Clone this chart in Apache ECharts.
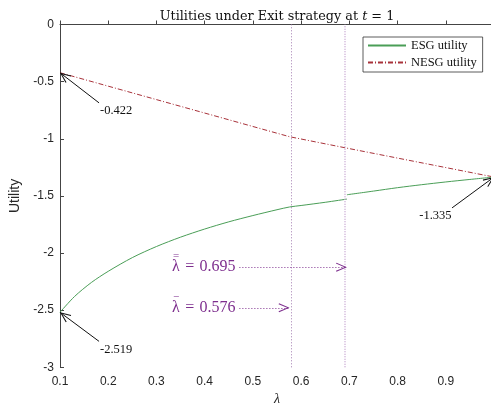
<!DOCTYPE html>
<html>
<head>
<meta charset="utf-8">
<script src="https://cdn.jsdelivr.net/npm/echarts@6/dist/echarts.min.js"></script>
<style>
  html, body { margin: 0; padding: 0; background: #fff; }
  #chart { width: 491px; height: 406px; }
</style>
</head>
<body>
<div id="chart"></div>
<script>
// ESG utility below the upper threshold
const lambdaESGLow = [0.1, 0.13, 0.165, 0.2, 0.25, 0.3, 0.35, 0.4, 0.45, 0.5, 0.55, 0.576, 0.6, 0.65, 0.695];
const esgUtilityLow = [-2.519, -2.381, -2.258, -2.16, -2.04, -1.943, -1.861, -1.79, -1.727, -1.672, -1.621, -1.597, -1.584, -1.556, -1.528];

// ESG utility from the upper threshold on (after the jump)
const lambdaESGHigh = [0.695, 0.75, 0.8, 0.85, 0.9, 0.95, 1.0];
const esgUtilityHigh = [-1.49, -1.458, -1.428, -1.402, -1.378, -1.356, -1.335];

// NESG utility (piecewise linear)
const lambdaNESG = [0.1, 0.576, 0.695, 1.0];
const nesgUtility = [-0.422, -0.982, -1.082, -1.335];

// Thresholds lambda-bar and double lambda-bar
const lambdaBar = 0.576;
const lambdaBarBar = 0.695;

const xTicks = { min: 0.1, max: 1.0, interval: 0.1 };
const yTicks = { min: -3, max: 0, interval: 0.5 };

const green = '#4a9e57';
const red = '#a8323a';
const purple = '#7e2f8e';
const serif = 'Liberation Serif';
const sans = 'Liberation Sans';

// open chevron, tip at the centre of its box so it lands on the end point
const chevron = 'path://M5,0 L5.01,0 L5,0.01 Z M5,10 L10,19.5 L9,20 L5,12.2 L1,20 L0,19.5 Z';

const zip = (xs, ys) => xs.map((x, i) => [x, ys[i]]);

function arrow(from, to, color, type) {
  return [
    { coord: from, symbol: 'none', lineStyle: { color: color, width: 1, type: type } },
    { coord: to, symbol: chevron, symbolSize: [9, 22] }
  ];
}

function note(coord, text, align, color, size) {
  return {
    coord: coord,
    symbol: 'circle',
    symbolSize: 0,
    label: {
      show: true,
      position: [0, 0],
      align: align,
      verticalAlign: 'middle',
      formatter: text,
      fontFamily: serif,
      fontSize: size,
      color: color
    }
  };
}

// threshold label: lambda with one or two bars drawn above it
function thresholdNote(coord, bar, value) {
  return {
    coord: coord,
    symbol: 'circle',
    symbolSize: 0,
    label: {
      show: true,
      position: [0, 0],
      align: 'left',
      verticalAlign: 'middle',
      offset: [0, -3],
      formatter: '{bar|' + bar + '}\n{txt|λ \u200A=\u200A ' + value.toFixed(3) + '}',
      rich: {
        bar: { fontFamily: serif, fontSize: 11, lineHeight: 6, color: purple, padding: [0, 0, 0, 1] },
        txt: { fontFamily: serif, fontSize: 16, lineHeight: 16, color: purple }
      }
    }
  };
}

const lastL = lambdaESGHigh[lambdaESGHigh.length - 1];
const lastU = esgUtilityHigh[esgUtilityHigh.length - 1];

const chart = echarts.init(document.getElementById('chart'), null, { renderer: 'canvas' });

chart.setOption({
  animation: false,
  backgroundColor: '#fff',
  title: {
    text: 'Utilities under Exit strategy at {i|t} = 1',
    left: 272,
    textAlign: 'center',
    top: 5,
    textStyle: {
      fontFamily: 'DejaVu Serif',
      fontSize: 12.8,
      fontWeight: 'normal',
      color: '#111',
      rich: { i: { fontFamily: 'DejaVu Serif', fontStyle: 'italic', fontSize: 12.8, color: '#111' } }
    }
  },
  legend: {
    orient: 'vertical',
    left: 363,
    top: 37,
    padding: [2, 6, 3, 4],
    itemGap: 4,
    itemWidth: 38,
    itemHeight: 12,
    borderColor: '#333',
    borderWidth: 0.8,
    backgroundColor: '#fff',
    itemStyle: { opacity: 0 },
    textStyle: { fontFamily: serif, fontSize: 12.5, color: '#111' },
    data: ['ESG utility', 'NESG utility']
  },
  grid: { left: 60, top: 24.5, width: 434, height: 342.8, containLabel: false, outerBoundsMode: 'none' },
  xAxis: {
    type: 'value',
    min: xTicks.min,
    max: xTicks.max,
    interval: xTicks.interval,
    name: 'λ',
    nameLocation: 'middle',
    nameGap: 24,
    nameTextStyle: { fontFamily: serif, fontStyle: 'italic', fontSize: 14, color: '#222' },
    axisLine: { lineStyle: { color: '#444', width: 1 } },
    axisTick: { inside: true, length: 4, lineStyle: { color: '#444' } },
    axisLabel: { showMaxLabel: false, fontFamily: sans, fontSize: 12, color: '#262626', margin: 8 },
    splitLine: { show: false }
  },
  yAxis: {
    type: 'value',
    min: yTicks.min,
    max: yTicks.max,
    interval: yTicks.interval,
    name: 'Utility',
    nameLocation: 'middle',
    nameGap: 37,
    nameTextStyle: { fontFamily: sans, fontSize: 14, color: '#262626' },
    axisLine: { show: true, lineStyle: { color: '#444', width: 1 } },
    axisTick: { show: true, inside: true, length: 4, lineStyle: { color: '#444' } },
    axisLabel: { fontFamily: sans, fontSize: 12, color: '#262626', margin: 6 },
    splitLine: { show: false }
  },
  series: [
    {
      name: 'ESG utility',
      type: 'line',
      data: zip(lambdaESGLow, esgUtilityLow),
      symbol: 'none',
      smooth: 0.3,
      lineStyle: { color: green, width: 1 },
      itemStyle: { color: green },
      z: 3,
      markLine: {
        silent: true,
        animation: false,
        symbol: 'none',
        label: { show: false },
        emphasis: { disabled: true },
        data: [
          { xAxis: lambdaBar, lineStyle: { color: '#a27bb0', width: 1, type: [1, 2] } },
          { xAxis: lambdaBarBar, lineStyle: { color: '#c8a9d3', width: 1.5, type: [1, 1.5] } },
          arrow([0.472, -2.124], [lambdaBarBar, -2.124], purple, [1, 2]),
          arrow([0.472, -2.479], [lambdaBar, -2.479], purple, [1, 2]),
          arrow([0.181, -0.686], [lambdaNESG[0], nesgUtility[0]], '#111', 'solid'),
          arrow([0.181, -2.773], [lambdaESGLow[0], esgUtilityLow[0]], '#111', 'solid'),
          arrow([0.913, -1.605], [lastL, lastU], '#111', 'solid')
        ]
      },
      markPoint: {
        silent: true,
        animation: false,
        data: [
          thresholdNote([0.3324, -2.124], '=', lambdaBarBar),
          thresholdNote([0.3324, -2.479], '\u2212', lambdaBar),
          note([0.183, -0.755], nesgUtility[0].toFixed(3), 'left', '#111', 12.5),
          note([0.183, -2.843], esgUtilityLow[0].toFixed(3), 'left', '#111', 12.5),
          note([0.912, -1.670], lastU.toFixed(3), 'right', '#111', 12.5)
        ]
      }
    },
    {
      name: 'ESG utility',
      type: 'line',
      data: zip(lambdaESGHigh, esgUtilityHigh),
      symbol: 'none',
      smooth: 0.3,
      lineStyle: { color: green, width: 1 },
      itemStyle: { color: green },
      z: 3
    },
    {
      name: 'NESG utility',
      type: 'line',
      data: zip(lambdaNESG, nesgUtility),
      symbol: 'none',
      lineStyle: { color: red, width: 1, type: [5, 2, 1, 2] },
      itemStyle: { color: red },
      z: 3
    }
  ]
});
</script>
</body>
</html>
